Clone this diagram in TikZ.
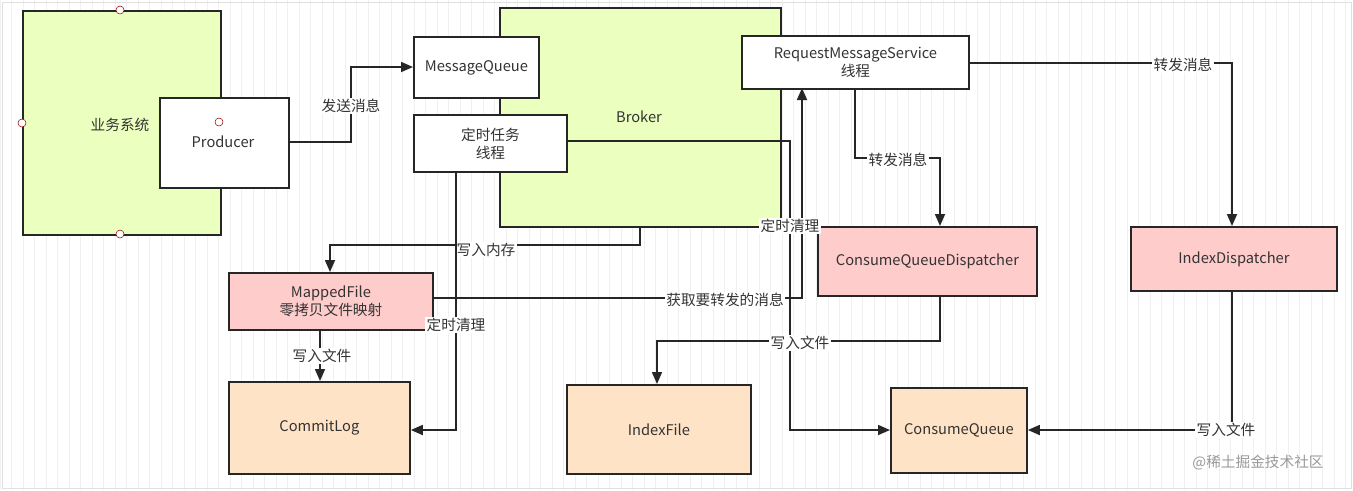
\documentclass[tikz,border=0pt]{standalone}
\usepackage{fontspec}
\setmainfont{Noto Sans CJK SC}
\usetikzlibrary{arrows.meta}
\begin{document}
\begin{tikzpicture}[x=0.75pt,y=-0.75pt,
  font=\fontsize{11}{13.5}\selectfont,
  box/.style={draw=black!85,line width=1.4pt,anchor=north west,align=center,inner sep=0pt},
  wbox/.style={box,fill=white},
  gbox/.style={box,fill=green!8!lime!25!white},
  pbox/.style={box,fill=red!20},
  obox/.style={box,fill=orange!22},
  conn/.style={draw=black!85,line width=1.3pt,-{Triangle[length=9pt,width=7.5pt]}},
  lab/.style={fill=white,inner sep=1pt,text=black!80},
  port/.style={circle,draw=red!60!black,fill=white,inner sep=0pt,minimum size=6pt}]
\useasboundingbox (0,0) rectangle (1353,490);
\fill[white] (0,0) rectangle (1353,490);
\draw[black!6,step=11.5] (0,0) grid (1353,490);
\draw[black!12] (2,2) rectangle (1351,488);
% boxes
\node[gbox,minimum width=198*0.75pt,minimum height=224*0.75pt] (biz) at (22,10) {};
\node[text=black!80] (bizl) at (120,125) {业务系统};
\node[wbox,minimum width=129*0.75pt,minimum height=90*0.75pt] (prod) at (159,97) {};
\node[text=black!80] (prodl) at (223,142) {Producer};
\node[port] (p1) at (120,10) {};
\node[port] (p2) at (22,123) {};
\node[port] (p3) at (120,234) {};
\node[port] (p4) at (219,122) {};
\node[gbox,minimum width=281*0.75pt,minimum height=219*0.75pt] (broker) at (499,7) {};
\node[text=black!80] (brokerl) at (639,117) {Broker};
\node[wbox,minimum width=125*0.75pt,minimum height=61*0.75pt] (mq) at (413,36) {};
\node[text=black!80] at (mq.center) {MessageQueue};
\node[wbox,minimum width=153*0.75pt,minimum height=57*0.75pt] (timer) at (413,114) {};
\node[text=black!80,align=center] at (timer.center) {定时任务\\线程};
\node[wbox,minimum width=227*0.75pt,minimum height=53*0.75pt] (rms) at (741,35) {};
\node[text=black!80,align=center] at (rms.center) {RequestMessageService\\线程};
\node[pbox,minimum width=204*0.75pt,minimum height=57*0.75pt] (mf) at (228,272) {};
\node[text=black!80,align=center] at (mf.center) {MappedFile\\零拷贝文件映射};
\node[obox,minimum width=181*0.75pt,minimum height=92*0.75pt] (cl) at (228,381) {};
\node[text=black!80] at (cl.center) {CommitLog};
\node[obox,minimum width=184*0.75pt,minimum height=89*0.75pt] (if) at (566,384) {};
\node[text=black!80] at (if.center) {IndexFile};
\node[obox,minimum width=136*0.75pt,minimum height=85*0.75pt] (cq) at (890,387) {};
\node[text=black!80] at (cq.center) {ConsumeQueue};
\node[pbox,minimum width=219*0.75pt,minimum height=69*0.75pt] (cqd) at (817,226) {};
\node[text=black!80] at (cqd.center) {ConsumeQueueDispatcher};
\node[pbox,minimum width=206*0.75pt,minimum height=64*0.75pt] (idx) at (1130,226) {};
\node[text=black!80] at (idx.center) {IndexDispatcher};
% connectors
\draw[conn] (prod.east|-0,142) -- (351,142) -- (351,67) -- (mq.west|-0,67);
\node[lab] (l1) at (351,106) {发送消息};
\draw[conn] (640,226) -- (640,245) -- (330,245) -- (330,272);
\node[lab] (l2) at (486,250) {写入内存};
\draw[conn] (320,329) -- (320,381);
\node[lab] (l3) at (322,356) {写入文件};
\draw[conn] (456,171) -- (456,430) -- (cl.east|-0,430);
\draw[conn] (566,141) -- (790,141) -- (790,430) -- (cq.west|-0,430);
\draw[conn] (mf.east|-0,298) -- (802,298) -- (802,88);
\node[lab] (l4) at (456,325) {定时清理};
\node[lab] (l5) at (790,226) {定时清理};
\node[lab] (l6) at (725,300) {获取要转发的消息};
\draw[conn] (855,88) -- (855,158) -- (940,158) -- (940,226);
\node[lab] (l7) at (898,160) {转发消息};
\draw[conn] (rms.east|-0,63) -- (1232,63) -- (1232,226);
\node[lab] (l8) at (1183,65) {转发消息};
\draw[conn] (940,295) -- (940,341) -- (657,341) -- (657,384);
\node[lab] (l9) at (800,343) {写入文件};
\draw[conn] (1232,290) -- (1232,430) -- (cq.east|-0,430);
\node[lab] (l10) at (1226,430) {写入文件};
\node[text=black!40] (wm) at (1258,463) {@稀土掘金技术社区};
\end{tikzpicture}
\end{document}
